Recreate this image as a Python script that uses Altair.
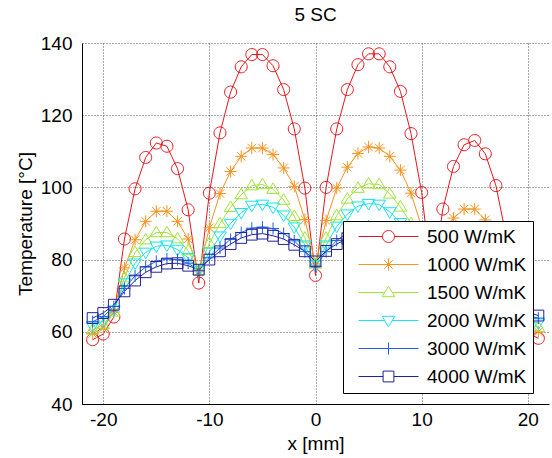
import altair as alt
import pandas as pd

x_mm = [-21, -20, -19, -18, -17, -16, -15, -14, -13, -12, -11, -10, -9, -8, -7, -6, -5, -4, -3, -2, -1,
        0, 1, 2, 3, 4, 5, 6, 7, 8, 9, 10, 11, 12, 13, 14, 15, 16, 17, 18, 19, 20, 21]

t500 = [57.8, 59.4, 64.1, 85.7, 99.6, 108.3, 112.3, 111.4, 105.2, 93.8, 73.5,
        98.4, 115.1, 126.4, 133.4, 136.8, 136.8, 133.7, 127.1, 116.2, 99.8,
        75.6,
        100.0, 116.2, 127.1, 134.0, 137.0, 137.0, 133.4, 126.6, 114.9, 98.6,
        73.6, 94.0, 105.8, 111.8, 113.0, 109.3, 100.5, 86.0, 64.3, 59.6, 58.2]
t1000 = [59.5, 61.0, 65.5, 77.7, 85.5, 90.6, 93.4, 93.4, 90.6, 85.7, 76.7,
         88.8, 98.3, 104.4, 108.6, 110.9, 110.9, 109.1, 105.4, 100.3, 91.1,
         78.8,
         90.8, 99.8, 105.6, 109.4, 111.2, 110.9, 108.6, 104.8, 98.4, 89.0,
         76.8, 86.0, 91.5, 94.0, 94.0, 91.0, 86.0, 78.0, 65.2, 61.2, 60.0]
t1500 = [60.5, 62.0, 65.5, 75.0, 82.0, 85.5, 87.5, 87.5, 85.8, 82.5, 77.0,
         84.5, 90.0, 94.5, 98.0, 100.5, 100.8, 99.5, 96.5, 92.0, 86.0,
         78.8,
         86.0, 92.2, 96.8, 99.8, 101.0, 100.8, 98.2, 94.6, 90.0, 84.6,
         77.0, 82.6, 86.0, 87.8, 87.8, 85.8, 82.2, 75.2, 65.6, 62.2, 61.2]
t2000 = [61.5, 63.0, 66.0, 73.5, 79.0, 82.0, 83.7, 84.0, 82.8, 80.5, 77.0,
         82.0, 86.5, 90.0, 93.0, 95.0, 95.3, 94.5, 92.3, 89.0, 84.0,
         78.5,
         84.0, 89.2, 92.6, 94.8, 95.5, 95.3, 93.2, 90.2, 86.6, 82.2,
         77.0, 80.6, 83.0, 84.2, 84.0, 82.2, 79.2, 73.6, 66.2, 63.2, 62.4]
t3000 = [62.8, 64.2, 67.0, 72.0, 75.5, 78.0, 79.5, 80.2, 80.0, 79.0, 77.0,
         80.5, 83.2, 85.6, 87.5, 88.7, 89.0, 88.6, 87.2, 85.2, 82.2,
         78.2,
         82.2, 85.3, 87.4, 88.8, 89.2, 88.9, 87.6, 85.7, 83.3, 80.6,
         77.0, 79.1, 80.2, 80.4, 79.7, 78.1, 75.6, 72.1, 67.1, 64.4, 63.8]
t4000 = [63.8, 65.2, 67.5, 71.2, 74.2, 76.5, 78.0, 78.9, 79.0, 78.3, 77.2,
         80.0, 82.3, 84.3, 86.0, 86.9, 87.2, 86.6, 85.7, 84.1, 82.3,
         79.5,
         82.4, 84.3, 85.8, 86.8, 87.3, 87.0, 86.1, 84.4, 82.4, 80.1,
         77.3, 78.4, 79.1, 79.1, 78.2, 76.6, 74.3, 71.3, 67.6, 65.4, 64.5]

series_names = ["500 W/mK", "1000 W/mK", "1500 W/mK", "2000 W/mK", "3000 W/mK", "4000 W/mK"]
series_values = [t500, t1000, t1500, t2000, t3000, t4000]
series_colors = ["#e3161d", "#f8921e", "#9fe43a", "#16e4f0", "#1f5fe6", "#22229a"]

x_ticks = [-20, -10, 0, 10, 20]
y_ticks = [40, 60, 80, 100, 120, 140]

# marker shapes (unit box [-1,1])
marker_paths = [
    "M-1,0A1,1 0 1,0 1,0A1,1 0 1,0 -1,0Z",
    "M-1,0L1,0M0,-1L0,1M-0.7,-0.7L0.7,0.7M-0.7,0.7L0.7,-0.7",
    "M0,-1.05L1.05,0.7L-1.05,0.7Z",
    "M0,1.05L1.05,-0.7L-1.05,-0.7Z",
    "M-1,0L1,0M0,-1L0,1",
    "M-0.9,-0.9L0.9,-0.9L0.9,0.9L-0.9,0.9Z",
]
# legend symbols: line with marker in the middle
legend_paths = [
    "M0,0H4M6,0H10M4,0A1,1 0 1,0 6,0A1,1 0 1,0 4,0Z",
    "M0,0H10M5,-1V1M4.3,-0.7L5.7,0.7M4.3,0.7L5.7,-0.7",
    "M0,0H4.37M5.63,0H10M5,-1.05L6.05,0.7L3.95,0.7Z",
    "M0,0H4.37M5.63,0H10M5,1.05L6.05,-0.7L3.95,-0.7Z",
    "M0,0H10M5,-1V1",
    "M0,0H4.1M5.9,0H10M4.1,-0.9H5.9V0.9H4.1Z",
]

rows = []
for order, (name, vals) in enumerate(zip(series_names, series_values)):
    for xv, yv in zip(x_mm, vals):
        rows.append({"x": xv, "T": yv, "series": name, "order": order})
df = pd.DataFrame(rows)

FONT = "Liberation Sans"

x_enc = alt.X("x:Q", scale=alt.Scale(domain=[-22, 22], nice=False),
              axis=alt.Axis(values=x_ticks, title="x [mm]", labelExpr="'' + datum.value"))
y_enc = alt.Y("T:Q", scale=alt.Scale(domain=[40, 140], nice=False),
              axis=alt.Axis(values=y_ticks, title="Temperature [°C]", labelExpr="'' + datum.value"))

color_scale = alt.Scale(domain=series_names, range=series_colors)

base = alt.Chart(df)

lines = base.mark_line(strokeWidth=1, clip=True).encode(
    x=x_enc, y=y_enc,
    color=alt.Color("series:N", scale=color_scale, legend=None),
    order="order:Q",
)

points = base.mark_point(filled=False, size=144, strokeWidth=1, opacity=1, clip=True).encode(
    x=x_enc, y=y_enc,
    color=alt.Color("series:N", scale=color_scale, legend=None),
    shape=alt.Shape("series:N", scale=alt.Scale(domain=series_names, range=marker_paths), legend=None),
)

legend_kw = dict(
    title=None, orient="none", legendX=261, legendY=178,
    strokeColor="black", fillColor="white", padding=6, cornerRadius=0,
    labelFont=FONT, labelFontSize=19, labelColor="black", labelOffset=59,
    symbolSize=144, symbolStrokeWidth=1, rowPadding=8, symbolOpacity=1,
)

legend_layer = base.transform_filter("datum.x > 1000").mark_point(filled=False, size=144, strokeWidth=1).encode(
    x=x_enc, y=y_enc,
    color=alt.Color("series:N", scale=color_scale, legend=alt.Legend(**legend_kw)),
    shape=alt.Shape("series:N", scale=alt.Scale(domain=series_names, range=legend_paths),
                    legend=alt.Legend(**legend_kw)),
)

chart = alt.layer(lines, points, legend_layer).resolve_scale(
    color="independent", shape="independent"
).properties(
    width=467, height=361,
    title=alt.Title("5 SC", font=FONT, fontSize=19, fontWeight="normal", color="black", offset=9),
    autosize=alt.AutoSizeParams(type="none"),
    padding={"left": 82, "top": 43, "right": 3, "bottom": 54},
).configure_view(stroke=None).configure_axis(
    labelFont=FONT, labelFontSize=19, labelColor="black",
    titleFont=FONT, titleFontSize=19, titleFontWeight="normal", titleColor="black",
    domainColor="black", domainWidth=1, ticks=False,
    grid=True, gridColor="#555555", gridDash=[1, 2], gridWidth=1, gridOpacity=1,
).configure_axisX(labelPadding=6, titlePadding=5).configure_axisY(labelPadding=10, titlePadding=5)

chart.save("out.html", embed_options={"renderer": "svg", "actions": False})
